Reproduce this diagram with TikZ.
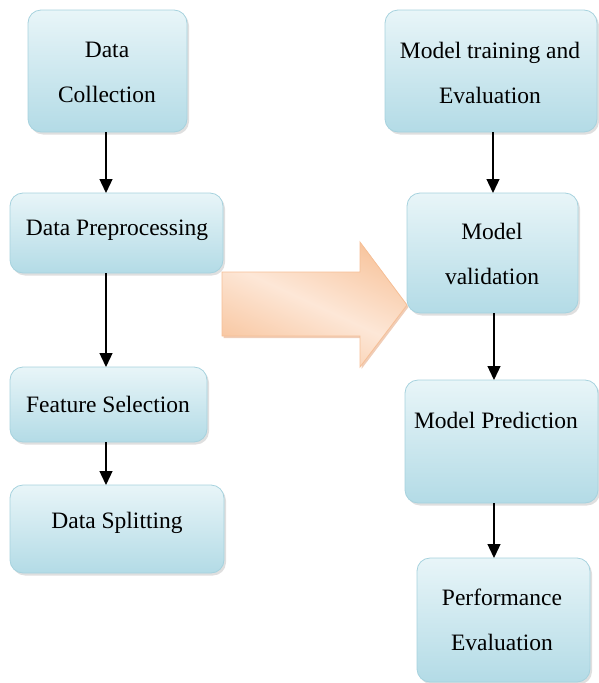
\documentclass[tikz,border=0pt]{standalone}
\usepackage{fontspec}
\setmainfont{Liberation Serif}
\usetikzlibrary{arrows.meta,shadows}
\definecolor{boxtop}{HTML}{E8F5F8}
\definecolor{boxbot}{HTML}{B3DBE6}
\definecolor{boxline}{HTML}{A6D2DE}
\definecolor{arrA}{HTML}{F8C6A0}
\definecolor{arrB}{HTML}{FDE7D7}
\definecolor{arrline}{HTML}{F6BF96}
\definecolor{arrshadow}{HTML}{E3A47C}
\tikzset{
  stepbox/.style={draw=boxline, line width=0.8pt, rounded corners=13pt,
    top color=boxtop, bottom color=boxbot,
    drop shadow={opacity=0.25, shadow xshift=2pt, shadow yshift=-2.5pt},
    inner sep=0pt, outer sep=0pt},
  bigarrow/.style={draw=arrline, line width=0.8pt,
    left color=arrA, right color=arrA, middle color=arrB, shading angle=-25},
  arrowshade/.style={fill=arrshadow, opacity=0.55},
  lbl/.style={font=\fontsize{23.5}{45}\selectfont, align=center, inner sep=0pt},
  flow/.style={line width=1.3pt, -{Triangle[width=13pt,length=14pt]}},
}
\newcommand{\mybox}[5]{% name, x1, y1, x2, y2
  \path[stepbox] (#2,#3) rectangle (#4,#5);
  \node[inner sep=0pt, outer sep=0pt, minimum width={#4-#2}, minimum height={#5-#3}] (#1) at ({(#2+#4)/2},{(#3+#5)/2}) {};
}
\begin{document}
\begin{tikzpicture}[x=1pt,y=-1pt]
\useasboundingbox (0,0) rectangle (598,683);
% big arrow
\path[arrowshade, shift={(1.5,2)}]
  (222,272) -- (360,272) -- (360,242) -- (407,305) -- (360,367) -- (360,336) -- (222,336) -- cycle;
\path[bigarrow]
  (222,272) -- (360,272) -- (360,242) -- (407,305) -- (360,367) -- (360,336) -- (222,336) -- cycle;
% boxes
\mybox{dc}{28}{10}{187}{132}
\mybox{dp}{10}{193}{223}{273}
\mybox{fs}{10}{367}{207}{442}
\mybox{ds}{10}{485}{224}{573}
\mybox{mt}{385}{10}{597}{132}
\mybox{mv}{407}{193}{578}{313}
\mybox{mp}{405}{380}{598}{503}
\mybox{pe}{417}{558}{590}{682}
% texts
\node[lbl] (tdc) at (107,72) {Data\\Collection};
\node[lbl] (tdp) at (117,230) {Data Preprocessing};
\node[lbl] (tfs) at (108,404) {Feature Selection};
\node[lbl] (tds) at (117,523) {Data Splitting};
\node[lbl] (tmt) at (490,73) {Model training and\\Evaluation};
\node[lbl] (tmv) at (492,254) {Model\\validation};
\node[lbl] (tmp) at (496,420) {Model Prediction};
\node[lbl] (tpe) at (502,620) {Performance\\Evaluation};
% connectors
\draw[flow] (dc.south -| 106,0) -- (dp.north -| 106,0);
\draw[flow] (dp.south -| 106,0) -- (fs.north -| 106,0);
\draw[flow] (fs.south -| 106,0) -- (ds.north -| 106,0);
\draw[flow] (mt.south -| 493,0) -- (mv.north -| 493,0);
\draw[flow] (mv.south -| 494,0) -- (mp.north -| 494,0);
\draw[flow] (mp.south -| 494,0) -- (pe.north -| 494,0);
\end{tikzpicture}
\end{document}
